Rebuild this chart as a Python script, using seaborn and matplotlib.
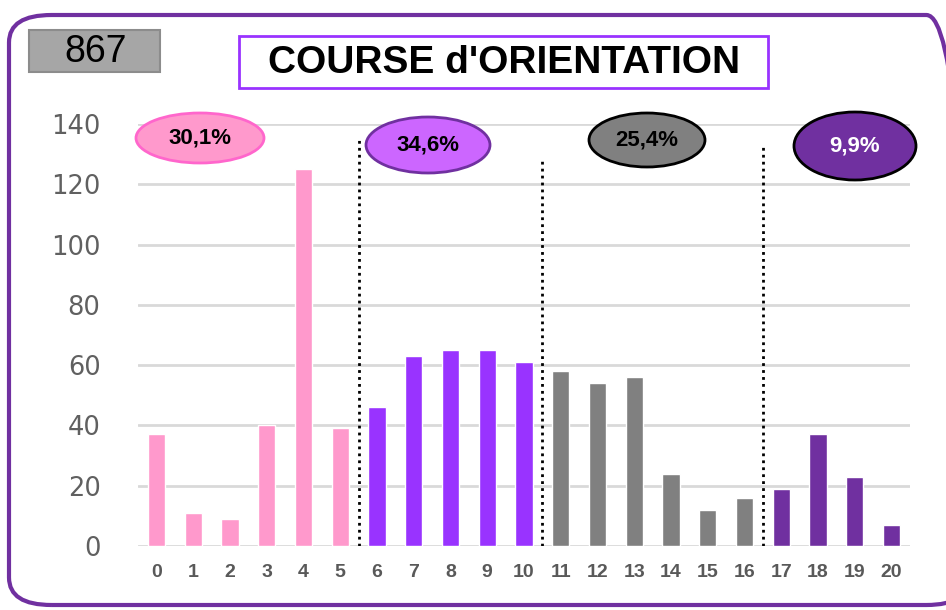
import matplotlib
matplotlib.use("Agg")
from matplotlib import pyplot as plt
from matplotlib.patches import Ellipse, FancyBboxPatch, Rectangle
import pandas as pd
import seaborn as sns

# notes 0..20 and number of students per note
notes = list(range(21))
counts = [37, 11, 9, 40, 125, 39, 46, 63, 65, 65, 61, 58, 54, 56, 24, 12, 16, 19, 37, 23, 7]
groups = ["g1"] * 6 + ["g2"] * 5 + ["g3"] * 6 + ["g4"] * 4
group_colors = {"g1": "#FF99CC", "g2": "#9933FF", "g3": "#808080", "g4": "#7030A0"}
shares = ["30,1%", "34,6%", "25,4%", "9,9%"]
total = "867"
title = "COURSE d'ORIENTATION"
# separators between groups (x position, top value)
sep_x = [5.5, 10.5, 16.5]
sep_top = [135, 128, 133]

df = pd.DataFrame({"note": notes, "count": counts, "group": groups})

sns.set_theme(style="white")
plt.rcParams["font.family"] = ["DejaVu Sans"]
narrow = ["Liberation Sans Narrow", "Liberation Sans", "DejaVu Sans"]

fig = plt.figure(figsize=(9.46, 6.10), dpi=100)
W, H = 946, 610
ax = fig.add_axes([138 / W, 64 / H, 772 / W, 422 / H])

sns.barplot(data=df, x="note", y="count", hue="group", palette=group_colors,
            dodge=False, width=0.47, legend=False, ax=ax, saturation=1, zorder=3)

ax.set_ylim(0, 140)
ax.set_xlim(-0.5, 20.5)
ax.set_yticks(range(0, 141, 20))
ax.yaxis.grid(True, color="#D9D9D9", linewidth=2, zorder=0)
ax.set_axisbelow(True)
for s in ax.spines.values():
    s.set_visible(False)
ax.tick_params(axis="both", length=0)
ax.tick_params(axis="y", labelsize=18.5, labelcolor="#606060", pad=27)
ax.tick_params(axis="x", labelcolor="#595959", pad=13)
for lbl in ax.get_xticklabels():
    lbl.set_fontsize(14)
    lbl.set_fontweight("bold")
    lbl.set_family(narrow)
ax.set_xlabel("")
ax.set_ylabel("")

for x, top in zip(sep_x, sep_top):
    ax.plot([x, x], [0, top], color="black", linestyle=(0, (1, 1.5)), linewidth=2, zorder=4)

# frame around the whole chart (runs past the right edge)
fig.patches.append(FancyBboxPatch((9 / W, 5 / H), 960 / W, 590 / H,
                                  boxstyle="round,pad=0,rounding_size=0.045",
                                  transform=fig.transFigure, facecolor="none",
                                  edgecolor="#7030A0", linewidth=3))

# total box
fig.patches.append(Rectangle((29 / W, (H - 72) / H), 131 / W, 42 / H, transform=fig.transFigure,
                             facecolor="#A6A6A6", edgecolor="#8C8C8C", linewidth=1.5))
fig.text(96 / W, (H - 52) / H, total, ha="center", va="center", fontsize=27,
         family=narrow, color="black")

# title box
fig.patches.append(Rectangle((239 / W, (H - 88) / H), 529 / W, 52 / H, transform=fig.transFigure,
                             facecolor="white", edgecolor="#9933FF", linewidth=2))
fig.text(504 / W, (H - 63) / H, title, ha="center", va="center", fontsize=28,
         fontweight="bold", family=narrow, color="black")

# percentage ellipses
ell = [
    (200, 138, 128, 50, "#FF99CC", "#FF66CC", "black"),
    (428, 145, 124, 56, "#CC66FF", "#7030A0", "black"),
    (647, 140, 116, 54, "#808080", "black", "black"),
    (855, 146, 122, 68, "#7030A0", "black", "white"),
]
for (cx, cy, ew, eh, fc, ec, tc), txt in zip(ell, shares):
    fig.patches.append(Ellipse((cx / W, (H - cy) / H), ew / W, eh / H, transform=fig.transFigure,
                               facecolor=fc, edgecolor=ec, linewidth=2, zorder=5))
    fig.text(cx / W, (H - cy) / H, txt, ha="center", va="center", fontsize=16,
             fontweight="bold", family=narrow, color=tc, zorder=6)

plt.savefig("out.png", dpi=100)
